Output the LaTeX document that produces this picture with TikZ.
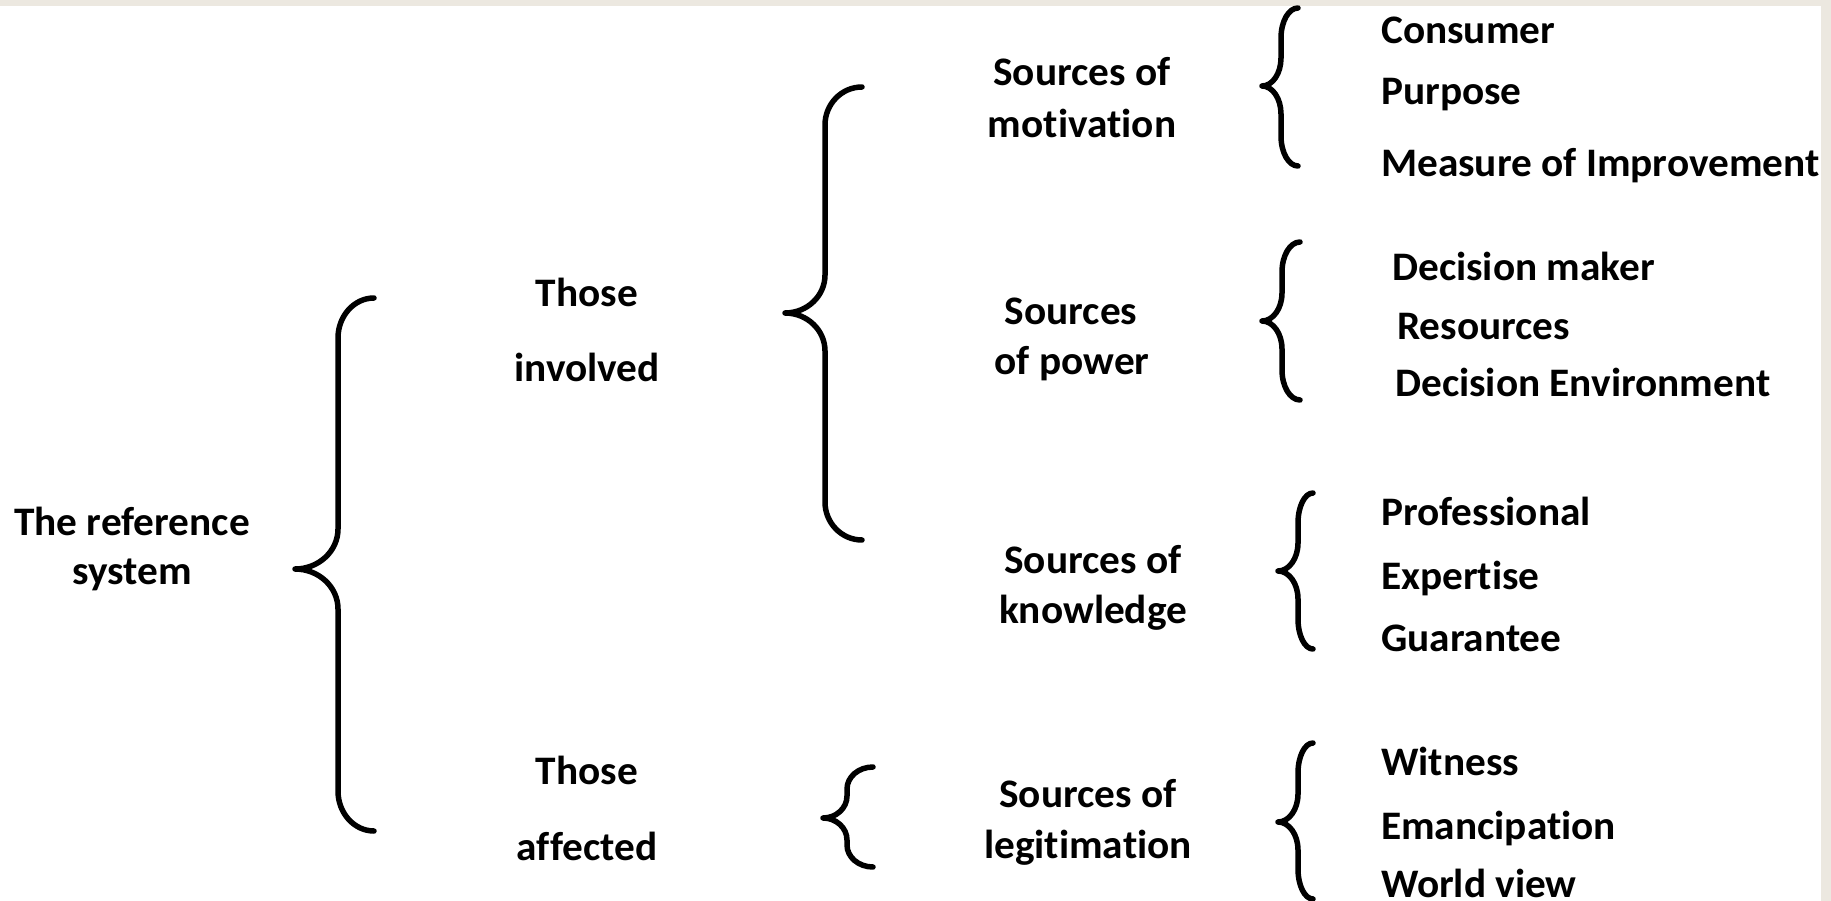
\documentclass[tikz,border=0pt]{standalone}
\usepackage{fontspec}
\setmainfont{Carlito}[Ligatures=NoCommon]
\definecolor{bgbeige}{RGB}{236,232,224}
\tikzset{
  lbl/.style={font=\fontsize{40.5}{48}\selectfont\bfseries\addfontfeatures{FakeStretch=1.02}, inner sep=0pt, text=black},
  brc/.style={line width=5.5pt, line cap=round, line join=round, black},
}
% #1 xe (ends), #2 xb (bar), #3 xt (tip), #4 yt, #5 ym, #6 yb, #7 r1 (end curve), #8 r2 (tip curve)
\newcommand\drawbrace[8]{%
  \draw[brc] (#1,#4) .. controls ({#1-0.552*(#1-#2)},#4) and (#2,{#4+#7-0.552*#7}) .. (#2,{#4+#7})
    -- (#2,{#5-#8}) .. controls (#2,{#5-#8+0.552*#8}) and ({#3+0.552*(#2-#3)},#5) .. (#3,#5)
    .. controls ({#3+0.552*(#2-#3)},#5) and (#2,{#5+#8-0.552*#8}) .. (#2,{#5+#8})
    -- (#2,{#6-#7}) .. controls (#2,{#6-#7+0.552*#7}) and ({#1-0.552*(#1-#2)},#6) .. (#1,#6);}
\begin{document}
\begin{tikzpicture}[x=1pt,y=-1pt]
\useasboundingbox (0,0) rectangle (1831,901);
\fill[bgbeige] (0,0) rectangle (1831,901);
\fill[white] (0,6) rectangle (1821,901);

% level 0
\node[lbl,anchor=base] (ref1) at (132,535) {The reference};
\node[lbl,anchor=base] (ref2) at (132,584) {system};

% level 1
\node[lbl,anchor=base] (inv1) at (587,307) {Those};
\node[lbl,anchor=base] (inv2) at (587,381) {involved};
\node[lbl,anchor=base] (aff1) at (587,784) {Those};
\node[lbl,anchor=base] (aff2) at (587,860) {affected};

% level 2
\node[lbl,anchor=base] (mot1) at (1082,86) {Sources of};
\node[lbl,anchor=base] (mot2) at (1082,138) {motivation};
\node[lbl,anchor=base] (pow1) at (1071,324) {Sources};
\node[lbl,anchor=base] (pow2) at (1072,374) {of power};
\node[lbl,anchor=base] (kno1) at (1093,573) {Sources of};
\node[lbl,anchor=base] (kno2) at (1093,623) {knowledge};
\node[lbl,anchor=base] (leg1) at (1088,807) {Sources of};
\node[lbl,anchor=base] (leg2) at (1088,858) {legitimation};

% level 3
\node[lbl,anchor=base west] (c1) at (1381,44) {Consumer};
\node[lbl,anchor=base west] (c2) at (1381,105) {Purpose};
\node[lbl,anchor=base west] (c3) at (1381,177) {Measure of Improvement};
\node[lbl,anchor=base west] (p1) at (1392,281) {Decision maker};
\node[lbl,anchor=base west] (p2) at (1397,339) {Resources};
\node[lbl,anchor=base west] (p3) at (1395,396) {Decision Environment};
\node[lbl,anchor=base west] (k1) at (1381,525) {Professional};
\node[lbl,anchor=base west] (k2) at (1381,589) {Expertise};
\node[lbl,anchor=base west] (k3) at (1381,651) {Guarantee};
\node[lbl,anchor=base west] (l1) at (1381,775) {Witness};
\node[lbl,anchor=base west] (l2) at (1381,839) {Emancipation};
\node[lbl,anchor=base west] (l3) at (1381,897) {World view};

% braces
\drawbrace{374}{338}{295}{298}{569}{831}{40}{40}
\drawbrace{862}{825}{785}{87}{313}{540}{38}{38}
\drawbrace{873}{847}{823}{767}{818}{867}{22}{22}
\drawbrace{1298}{1281}{1262}{8}{86}{166}{30}{28}
\drawbrace{1300}{1282}{1262}{242}{321}{400}{30}{28}
\drawbrace{1313}{1298}{1278}{493}{571}{649}{30}{28}
\drawbrace{1313}{1298}{1278}{743}{822}{899}{30}{28}
\end{tikzpicture}
\end{document}
